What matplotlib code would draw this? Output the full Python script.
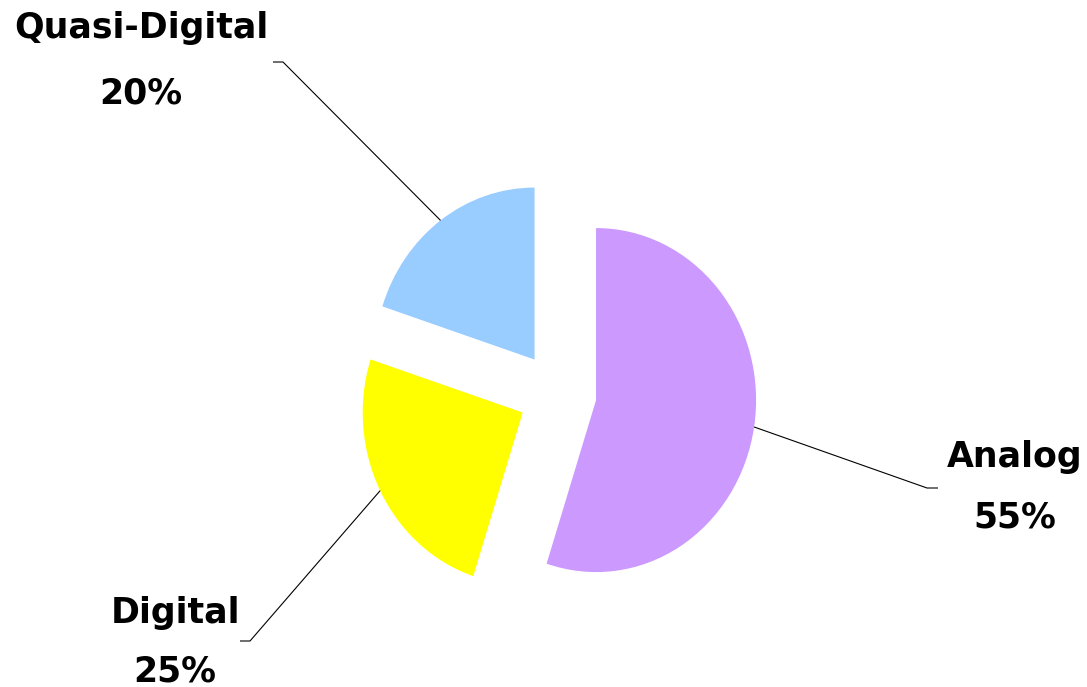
import matplotlib
matplotlib.use("Agg")
import matplotlib.pyplot as plt
import numpy as np

# Signal type shares
categories = ["Analog", "Digital", "Quasi-Digital"]
shares = [55, 25, 20]
colors = ["#CC99FF", "#FFFF00", "#99CCFF"]

W, H = 1087, 687
fig = plt.figure(figsize=(W / 100, H / 100), dpi=100)
fig.patch.set_facecolor("white")
ax = fig.add_axes([0, 0, 1, 1])

# pie centre and radii in pixels (slightly taller than wide)
CX, CY = 557.5, 393.5
RX, RY = 160.0, 172.0

wedges, _ = ax.pie(
    shares, colors=colors, startangle=90, counterclock=False,
    explode=[0.244] * len(shares), radius=1.0,
    wedgeprops=dict(linewidth=0, antialiased=True),
)
ax.set_xlim(-CX / RX, (W - CX) / RX)
ax.set_ylim(-(H - CY) / RY, CY / RY)
ax.set_aspect("auto")
ax.axis("off")


def to_data(px, py):
    return (px - CX) / RX, (CY - py) / RY


# label layout in pixels: elbow of leader, end of short horizontal tick,
# text centre x, baselines of name and percentage lines
layout = {
    "Analog":        dict(elbow=(927, 488), tick=(938, 488), tx=1015, b1=467, b2=527),
    "Digital":       dict(elbow=(250, 641), tick=(240, 641), tx=175, b1=623, b2=682),
    "Quasi-Digital": dict(elbow=(283, 62), tick=(273, 62), tx=141, b1=38, b2=103),
}

font = dict(family="DejaVu Sans", fontweight="bold", fontsize=25, color="black")

for wedge, name, val in zip(wedges, categories, shares):
    lay = layout[name]
    tm = np.deg2rad(0.5 * (wedge.theta1 + wedge.theta2))
    cx, cy = wedge.center
    r = wedge.r
    sx, sy = cx + r * np.cos(tm), cy + r * np.sin(tm)
    ex, ey = to_data(*lay["elbow"])
    hx, hy = to_data(*lay["tick"])
    ax.plot([sx, ex, hx], [sy, ey, hy], color="black", lw=0.8,
            solid_capstyle="butt", zorder=3)
    x1, y1 = to_data(lay["tx"], lay["b1"])
    x2, y2 = to_data(lay["tx"], lay["b2"])
    ax.text(x1, y1, name, ha="center", va="baseline", **font)
    ax.text(x2, y2, f"{val}%", ha="center", va="baseline", **font)

fig.savefig("out.png", dpi=100, facecolor="white")
